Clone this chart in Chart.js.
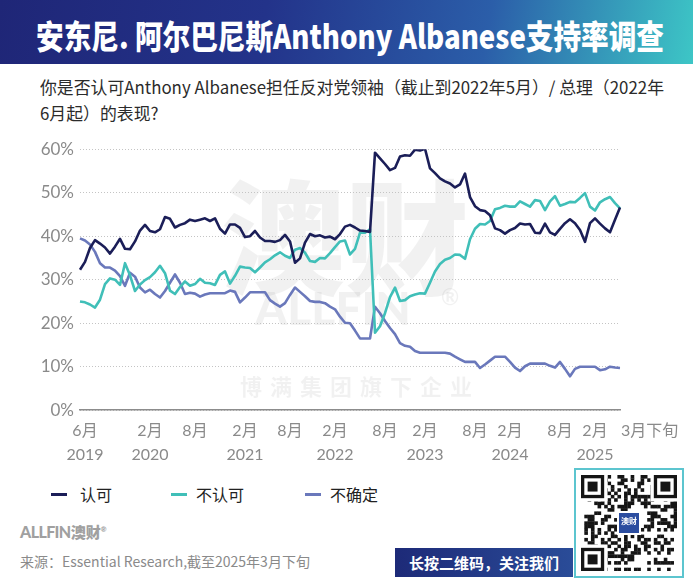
<!DOCTYPE html>
<html>
<head>
<meta charset="utf-8">
<script src="https://cdn.jsdelivr.net/npm/chart.js@4.4.1/dist/chart.umd.min.js"></script>
<style>
  body { margin: 0; width: 693px; height: 585px; position: relative; overflow: hidden; background: #fff; font-family: "Noto Sans CJK SC", sans-serif; }
  #banner { position: absolute; left: 0; top: 0; width: 693px; height: 64px;
    background: linear-gradient(100deg, #1f2677 0%, #23338a 38%, #2b5ea9 70%, #3dc6c6 100%); }
  #title { position: absolute; left: 36px; top: 14px; line-height: 42px; font-size: 33px; font-weight: 900; color: #fff; white-space: nowrap; transform-origin: left center; }
  .sub { position: absolute; left: 40px; font-size: 17px; line-height: 26px; color: #2b2b2b; white-space: nowrap; transform-origin: left center; }
  #chartBox { position: absolute; left: 0; top: 139px; width: 693px; height: 341px; }
  .lg { position: absolute; top: 482px; height: 24px; line-height: 24px; font-size: 16px; color: #222; white-space: nowrap; }
  .lg i { position: absolute; top: 11px; width: 16px; height: 3px; }
  #logo { position: absolute; left: 20px; top: 521px; font-family: Lato, sans-serif; font-weight: 900; font-size: 16px; color: #a0a0a0; letter-spacing: -0.6px; }
  #logo span { font-family: "Noto Sans CJK SC"; font-weight: 900; font-size: 15px; letter-spacing: 0; }
  #source { position: absolute; left: 20px; top: 551px; font-size: 14px; line-height: 20px; color: #8a8a8a; white-space: nowrap; }
  #follow { position: absolute; left: 395px; top: 548px; width: 178px; height: 29px; line-height: 29px; text-align: center;
    background: linear-gradient(90deg, #1d2a78, #2a4c98); color: #fff; font-size: 15px; font-weight: 700; }
  #qrFrame { position: absolute; left: 574px; top: 468px; width: 106px; height: 106px; border: 2px solid #5cc5cf; background: #fff; }
  #qr { position: absolute; left: 5px; top: 5px; }
</style>
</head>
<body>
<div id="banner"><div id="title">安东尼. 阿尔巴尼斯Anthony Albanese支持率调查</div></div>
<div class="sub" id="sub1" style="top:74px">你是否认可Anthony Albanese担任反对党领袖（截止到2022年5月）/ 总理（2022年</div>
<div class="sub" id="sub2" style="top:100px">6月起）的表现?</div>
<div id="chartBox"><canvas id="chart" width="693" height="341"></canvas></div>
<div id="legend"></div>
<div id="logo">ALLFIN<span>澳财</span><sup style="font-size:7px">®</sup></div>
<div id="source">来源：Essential Research,截至2025年3月下旬</div>
<div id="follow">长按二维码，关注我们</div>
<div id="qrFrame"><canvas id="qr" width="96" height="96"></canvas></div>

<script>
// 数据：每个点约为一次民调，按图中位置读取
const approve = [
  32.3, 34.1, 37.3, 39.1, 38.3, 37.4, 36.0, 37.6, 39.4, 37.1,
  37.0, 38.8, 41.3, 42.6, 41.2, 40.9, 41.6, 44.4, 44.0, 42.0,
  42.6, 43.0, 43.8, 43.5, 43.8, 44.1, 43.5, 44.1, 41.7, 40.6,
  42.7, 42.7, 41.9, 39.8, 40.0, 41.2, 39.7, 38.9, 38.9, 38.7,
  39.1, 40.3, 38.8, 33.9, 34.9, 38.5, 40.5, 40.0, 40.2, 39.7,
  39.9, 39.3, 40.5, 42.2, 42.6, 42.0, 41.3, 41.2, 41.0, 59.2,
  57.9, 56.6, 55.2, 55.7, 58.3, 58.6, 58.5, 59.9, 59.7, 60.1,
  55.6, 54.5, 53.3, 52.6, 52.1, 51.2, 51.9, 54.4, 49.0, 46.9,
  46.0, 45.8, 44.8, 41.8, 41.4, 40.6, 41.4, 41.9, 42.9, 42.7,
  42.8, 40.8, 40.7, 42.9, 40.9, 40.3, 41.7, 43.0, 43.9, 43.0,
  41.4, 38.7, 43.0, 44.1, 42.9, 41.8, 40.9, 43.8, 46.6
];
const disapprove = [
  25.0, 24.8, 24.3, 23.6, 25.4, 29.0, 30.3, 30.0, 28.8, 33.8,
  31.0, 27.4, 28.9, 29.9, 30.6, 31.7, 33.2, 31.5, 27.5, 26.7,
  28.3, 29.6, 28.6, 29.0, 30.2, 29.3, 29.2, 28.8, 31.1, 31.9,
  29.1, 30.9, 33.0, 32.8, 32.7, 31.7, 32.8, 34.0, 34.7, 35.6,
  36.3, 35.5, 35.0, 36.9, 37.3, 36.2, 34.3, 34.1, 35.0, 34.9,
  36.1, 37.5, 38.8, 39.0, 35.8, 37.1, 40.8, 40.8, 41.6, 17.8,
  19.3, 22.3, 26.0, 28.2, 25.1, 25.3, 26.2, 26.6, 26.9, 26.8,
  29.3, 31.9, 33.6, 34.6, 35.0, 35.8, 35.7, 34.8, 39.3, 41.7,
  42.8, 42.7, 43.5, 46.2, 46.5, 47.0, 46.8, 46.8, 48.0, 47.4,
  46.8, 48.3, 48.1, 46.0, 48.0, 49.2, 47.0, 47.4, 47.9, 47.8,
  48.8, 49.9, 46.8, 45.9, 47.8, 48.5, 49.0, 47.6, 46.4
];
const unsure = [
  39.5, 39.0, 38.1, 36.4, 33.8, 32.8, 32.8, 32.1, 30.8, 28.6,
  31.6, 30.7, 28.2, 27.1, 27.7, 26.7, 25.9, 27.4, 29.3, 31.2,
  29.3, 26.7, 27.0, 26.8, 26.1, 26.6, 26.9, 26.9, 26.9, 26.9,
  27.5, 27.2, 24.8, 25.9, 27.1, 27.1, 27.1, 27.1, 25.3, 24.5,
  23.8, 24.6, 26.5, 28.2, 27.2, 26.2, 25.1, 24.9, 24.9, 24.6,
  23.8, 23.2, 21.5, 20.1, 20.0, 18.3, 16.5, 16.5, 16.5, 23.8,
  22.3, 20.5, 18.9, 17.5, 15.4, 14.8, 14.6, 13.6, 13.2, 13.2,
  13.2, 13.2, 13.2, 13.2, 13.0, 12.3, 11.7, 11.1, 11.1, 11.1,
  9.7, 10.5, 11.4, 12.3, 12.3, 12.3, 11.1, 9.8, 9.0, 10.1,
  10.7, 10.7, 10.7, 10.7, 10.2, 9.8, 11.1, 9.5, 7.8, 9.5,
  10.0, 10.0, 10.0, 10.0, 9.2, 9.4, 10.0, 9.8, 9.7
];
const seriesNames = ["认可", "不认可", "不确定"];
const seriesColors = ["#1b1e58", "#40bfb8", "#6a78bb"];

// x 轴刻度：所在的民调序号、月份、年份
const tickIndex = [1, 14, 23, 33, 42, 51, 61, 69, 79, 86, 96, 103];
const tickMonth = ["6月", "2月", "8月", "2月", "8月", "2月", "8月", "2月", "8月", "2月", "8月", "2月"];
const tickYear = ["2019", "2020", "", "2021", "", "2022", "", "2023", "", "2024", "", "2025"];
const endLabel = "3月下旬";
const yTicks = [0, 10, 20, 30, 40, 50, 60];

const labels = approve.map(() => "");
tickIndex.forEach((idx, k) => {
  labels[idx] = tickYear[k] ? [tickMonth[k], tickYear[k]] : [tickMonth[k]];
});

const PLOT_TOP = 149, PLOT_BOTTOM = 410, X_AXIS_H = 70;
const TICK_PAD = 9;
const TICK_FONT = { family: "Lato, 'Noto Sans CJK SC', sans-serif", size: 16, lineHeight: 1.5 };
const TICK_COLOR = "#8a8a8a";
let boxTop = 139;

// 背景水印
const watermark = {
  id: "watermark",
  beforeDraw(chart) {
    const ctx = chart.ctx;
    ctx.save();
    ctx.fillStyle = "rgba(0,0,0,0.055)";
    ctx.textBaseline = "middle";
    ctx.textAlign = "center";
    ctx.font = "900 124px 'Noto Sans CJK SC'";
    ctx.fillText("澳财", 345, 238 - boxTop);
    ctx.font = "900 46px Lato, sans-serif";
    ctx.fillText("ALLFIN", 333, 310 - boxTop);
    ctx.font = "700 22px Lato, sans-serif";
    ctx.fillText("®", 450, 298 - boxTop);
    ctx.font = "700 22px 'Noto Sans CJK SC'";
    ctx.letterSpacing = "8px";
    ctx.fillText("博满集团旗下企业", 360, 386 - boxTop);
    ctx.restore();
  }
};

// 最后一个刻度“3月下旬”靠左对齐画在末点右侧
const endLabelPlugin = {
  id: "endLabel",
  afterDraw(chart) {
    const xs = chart.scales.x;
    const ctx = chart.ctx;
    ctx.save();
    ctx.font = "16px Lato, 'Noto Sans CJK SC', sans-serif";
    ctx.fillStyle = TICK_COLOR;
    ctx.textAlign = "left";
    ctx.textBaseline = "middle";
    ctx.fillText(endLabel, xs.getPixelForValue(labels.length - 1) + 1, xs.top + TICK_PAD + 12);
    ctx.restore();
  }
};

const seriesData = [approve, disapprove, unsure];

const chart = new Chart(document.getElementById("chart"), {
  type: "line",
  data: {
    labels: labels,
    datasets: seriesData.map((d, i) => ({
      label: seriesNames[i],
      data: d,
      borderColor: seriesColors[i],
      backgroundColor: seriesColors[i],
      borderWidth: 2.6,
      pointRadius: 0,
      tension: 0,
      borderJoinStyle: "round",
      fill: false
    }))
  },
  options: {
    responsive: false,
    maintainAspectRatio: false,
    animation: false,
    layout: { padding: { left: 0, right: 73, top: 0, bottom: 0 } },
    plugins: { legend: { display: false }, tooltip: { enabled: false } },
    scales: {
      x: {
        type: "category",
        offset: false,
        grid: { display: false, drawTicks: false },
        border: { display: true, color: "#8c8c8c", width: 1.5 },
        ticks: { autoSkip: false, maxRotation: 0, padding: TICK_PAD, color: TICK_COLOR, font: TICK_FONT },
        afterFit(scale) { scale.height = X_AXIS_H; }
      },
      y: {
        min: 0,
        max: 60,
        afterBuildTicks(scale) { scale.ticks = yTicks.map(v => ({ value: v })); },
        grid: { color: "#c4c4c4", lineWidth: 1, drawTicks: false },
        border: { display: false, dash: [1, 2] },
        ticks: { padding: 6, color: TICK_COLOR, font: { family: "Lato, sans-serif", size: 17 }, callback: v => v + "%" },
        afterFit(scale) { scale.width = 80; }
      }
    }
  },
  plugins: [watermark, endLabelPlugin]
});

// 让绘图区上沿落在 60%、下沿落在 0% 的位置
boxTop = PLOT_TOP - chart.chartArea.top;
document.getElementById("chartBox").style.top = boxTop + "px";
chart.resize(693, PLOT_BOTTOM + X_AXIS_H - boxTop);

// 图例
const legendX = [51, 171, 305];
const legendEl = document.getElementById("legend");
seriesNames.forEach((name, i) => {
  const item = document.createElement("div");
  item.className = "lg";
  item.style.left = legendX[i] + "px";
  item.innerHTML = '<i style="left:0;background:' + seriesColors[i] + '"></i><span style="margin-left:' + (i === 0 ? 29 : 25) + 'px">' + name + '</span>';
  legendEl.appendChild(item);
});

// 标题与副标题按原图宽度压缩
function fitWidth(el, w) {
  const s = w / el.getBoundingClientRect().width;
  el.style.transform = "scaleX(" + s + ")";
  return s;
}
fitWidth(document.getElementById("title"), 628);
const s = fitWidth(document.getElementById("sub1"), 624);
document.getElementById("sub2").style.transform = "scaleX(" + s + ")";

// 二维码装饰
(function drawQr() {
  const g = document.getElementById("qr").getContext("2d");
  const n = 29, m = 96 / n;
  g.fillStyle = "#fff";
  g.fillRect(0, 0, 96, 96);
  g.fillStyle = "#151515";
  for (let y = 0; y < n; y++) {
    for (let x = 0; x < n; x++) {
      const h = ((x * 37 + 11) * (y * 23 + 5) + x * y * 7 + (x ^ y) * 13) % 7;
      if (h < 3) g.fillRect(x * m, y * m, m + 0.3, m + 0.3);
    }
  }
  [[0, 0], [n - 7, 0], [0, n - 7]].forEach(([fx, fy]) => {
    g.fillStyle = "#fff"; g.fillRect((fx - (fx ? 1 : 0)) * m, (fy - (fy ? 1 : 0)) * m, 8 * m, 8 * m);
    g.fillStyle = "#151515"; g.fillRect(fx * m, fy * m, 7 * m, 7 * m);
    g.fillStyle = "#fff"; g.fillRect((fx + 1) * m, (fy + 1) * m, 5 * m, 5 * m);
    g.fillStyle = "#151515"; g.fillRect((fx + 2) * m, (fy + 2) * m, 3 * m, 3 * m);
  });
  g.fillStyle = "#fff"; g.fillRect(36, 36, 24, 24);
  g.fillStyle = "#2b4da0"; g.fillRect(38, 38, 20, 20);
  g.fillStyle = "#fff"; g.font = "700 8px 'Noto Sans CJK SC'"; g.textAlign = "center"; g.textBaseline = "middle";
  g.fillText("澳财", 48, 46);
})();
</script>
</body>
</html>
